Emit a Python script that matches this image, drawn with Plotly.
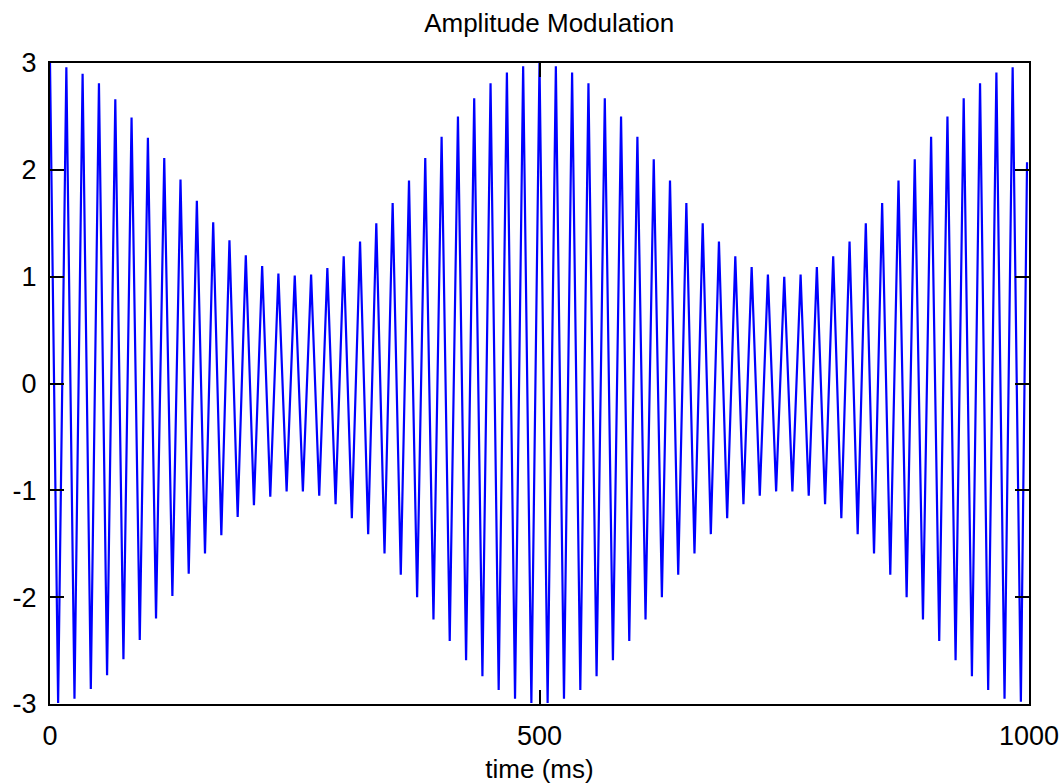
import plotly.graph_objects as go

# Sample times (ms): alternating carrier peaks and troughs
t_ms = [
    0, 8.3, 16.7, 25, 33.3, 41.7, 50, 58.3, 66.7, 75, 83.3, 91.7,
    100, 108.3, 116.7, 125, 133.3, 141.7, 150, 158.3, 166.7, 175, 183.3, 191.7,
    200, 208.3, 216.7, 225, 233.3, 241.7, 250, 258.3, 266.7, 275, 283.3, 291.7,
    300, 308.3, 316.7, 325, 333.3, 341.7, 350, 358.3, 366.7, 375, 383.3, 391.7,
    400, 408.3, 416.7, 425, 433.3, 441.7, 450, 458.3, 466.7, 475, 483.3, 491.7,
    500, 508.3, 516.7, 525, 533.3, 541.7, 550, 558.3, 566.7, 575, 583.3, 591.7,
    600, 608.3, 616.7, 625, 633.3, 641.7, 650, 658.3, 666.7, 675, 683.3, 691.7,
    700, 708.3, 716.7, 725, 733.3, 741.7, 750, 758.3, 766.7, 775, 783.3, 791.7,
    800, 808.3, 816.7, 825, 833.3, 841.7, 850, 858.3, 866.7, 875, 883.3, 891.7,
    900, 908.3, 916.7, 925, 933.3, 941.7, 950, 958.3, 966.7, 975, 983.3, 991.7,
    998,
]

signal = [
    3.00, -2.99, 2.96, -2.95, 2.90, -2.86, 2.81, -2.73, 2.66, -2.58, 2.49, -2.40,
    2.30, -2.20, 2.11, -1.99, 1.91, -1.78, 1.71, -1.59, 1.51, -1.42, 1.34, -1.25,
    1.20, -1.14, 1.10, -1.06, 1.03, -1.01, 1.01, -1.01, 1.02, -1.05, 1.08, -1.13,
    1.19, -1.26, 1.33, -1.41, 1.50, -1.59, 1.69, -1.79, 1.90, -2.00, 2.11, -2.21,
    2.31, -2.41, 2.50, -2.59, 2.67, -2.74, 2.81, -2.87, 2.91, -2.95, 2.97, -2.99,
    3.00, -2.99, 2.97, -2.95, 2.91, -2.87, 2.81, -2.74, 2.67, -2.59, 2.50, -2.41,
    2.31, -2.21, 2.10, -2.00, 1.90, -1.79, 1.69, -1.59, 1.50, -1.41, 1.33, -1.26,
    1.19, -1.13, 1.09, -1.05, 1.02, -1.01, 1.00, -1.01, 1.02, -1.05, 1.09, -1.13,
    1.19, -1.26, 1.33, -1.41, 1.50, -1.59, 1.69, -1.79, 1.90, -2.00, 2.10, -2.21,
    2.31, -2.41, 2.50, -2.59, 2.67, -2.74, 2.81, -2.87, 2.91, -2.95, 2.96, -2.98,
    2.07,
]

x_tick_vals = [0, 500, 1000]
x_tick_text = ["0", "500", "1000"]
y_tick_vals = [-3, -2, -1, 0, 1, 2, 3]
y_tick_text = ["-3", "-2", "-1", "0", "1", "2", "3"]

FONT = "Liberation Sans, Arial, sans-serif"

fig = go.Figure()
fig.add_trace(go.Scatter(
    x=t_ms, y=signal, mode="lines",
    line=dict(color="#0000FF", width=2.2),
    showlegend=False, hoverinfo="skip",
))

axis_common = dict(
    showgrid=False, zeroline=False, automargin=False,
    showline=True, linecolor="black", linewidth=2, mirror="ticks",
    ticks="inside", ticklen=14, tickwidth=2, tickcolor="black",
    tickfont=dict(family=FONT, size=27, color="black"),
)

fig.update_layout(
    width=1061, height=784,
    margin=dict(l=50, r=32, t=63, b=80, autoexpand=False),
    paper_bgcolor="white", plot_bgcolor="white",
    title=dict(
        text="Amplitude Modulation",
        font=dict(family=FONT, size=26, color="black"),
        x=541 / 1061, xanchor="center", xref="paper",
        y=1 - 23 / 784, yref="container", yanchor="middle",
    ),
    xaxis=dict(
        range=[0, 1000], tickvals=x_tick_vals, ticktext=x_tick_text,
        ticklabelstandoff=7,
        title=dict(text="time (ms)", font=dict(family=FONT, size=26, color="black"), standoff=10),
        **axis_common,
    ),
    yaxis=dict(
        range=[-3, 3], tickvals=y_tick_vals, ticktext=y_tick_text,
        ticklabelstandoff=6,
        **axis_common,
    ),
)

fig.write_html(
    "out.html",
    config={"displayModeBar": False},
    post_script="document.body.style.margin='0';document.body.style.padding='0';",
)
